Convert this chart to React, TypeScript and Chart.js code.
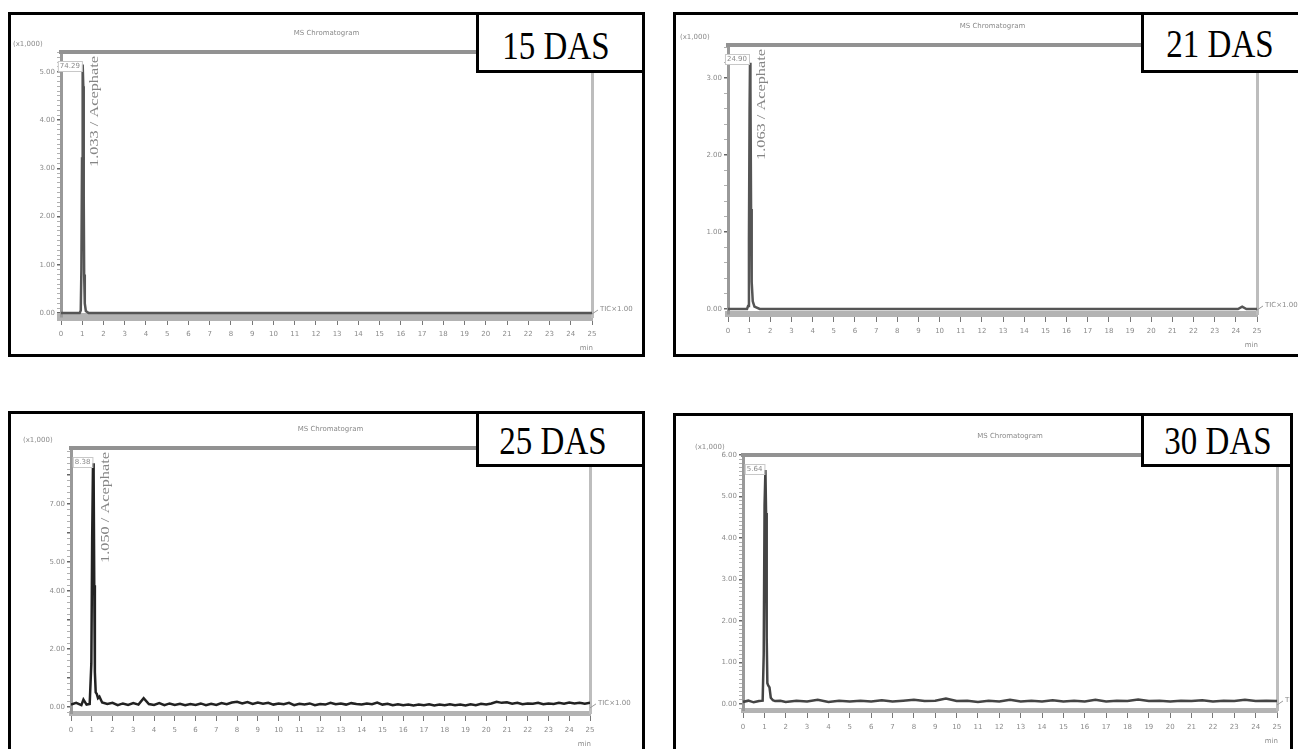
import React, { useEffect, useRef } from 'react';
import { Chart, registerables } from 'chart.js';

Chart.register(...registerables);

// ---------- data (retention time in min, intensity in x1,000) ----------
const DAS_LABELS = ['15 DAS', '21 DAS', '25 DAS', '30 DAS'];
const PEAK_RT = [1.03, 1.04, 1.08, 1.05];
const PEAK_TAGS = ['74.29', '24.90', '8.38', '5.64'];
const COMPOUND_TAGS = ['1.033 / Acephate', '1.063 / Acephate', '1.050 / Acephate', ''];

const Y_MAJOR_15 = [0, 1, 2, 3, 4, 5];
const Y_MAJOR_21 = [0, 1, 2, 3];
const Y_MAJOR_25 = [0, 2, 4, 5, 7];
const Y_MAJOR_30 = [0, 1, 2, 3, 4, 5, 6];

const TRACE_15: number[][] = [
  [0, 0], [0.88, 0], [0.93, 0.05], [0.96, 0.9], [0.99, 3.2], [1.01, 4.6], [1.03, 5.15],
  [1.05, 4.7], [1.07, 2.4], [1.09, 0.8], [1.12, 0.2], [1.17, 0.04], [1.3, 0], [25, 0],
];

const TRACE_21: number[][] = [
  [0, 0], [0.9, 0], [0.95, 0.04], [0.99, 0.9], [1.02, 2.6], [1.04, 3.2], [1.06, 2.9],
  [1.09, 1.3], [1.12, 0.35], [1.17, 0.1], [1.25, 0.03], [1.5, 0], [24.1, 0], [24.3, 0.03],
  [24.5, 0], [25, 0],
];

const TRACE_25: number[][] = [
  [0, 0.08], [0.25, 0.14], [0.5, 0.06], [0.6, 0.25], [0.75, 0.08], [0.9, 0.1], [0.98, 1.5],
  [1.02, 5.8], [1.06, 8.4], [1.09, 8.1], [1.12, 4.2], [1.15, 1.2], [1.19, 0.5], [1.24, 0.45],
  [1.3, 0.3], [1.37, 0.35], [1.5, 0.15], [1.75, 0.1], [2, 0.14], [2.25, 0.06], [2.5, 0.12],
  [2.75, 0.07], [3, 0.13], [3.25, 0.08], [3.5, 0.3], [3.75, 0.1], [4, 0.07], [4.25, 0.13],
  [4.5, 0.06], [4.75, 0.12], [5, 0.07], [5.25, 0.11], [5.5, 0.06], [5.75, 0.1], [6, 0.07],
  [6.25, 0.12], [6.5, 0.06], [6.75, 0.11], [7, 0.07], [7.25, 0.13], [7.5, 0.09], [7.75, 0.15],
  [8, 0.18], [8.25, 0.12], [8.5, 0.17], [8.75, 0.1], [9, 0.15], [9.25, 0.11], [9.5, 0.14],
  [9.75, 0.08], [10, 0.12], [10.25, 0.09], [10.5, 0.14], [10.75, 0.06], [11, 0.11], [11.25, 0.08],
  [11.5, 0.12], [11.75, 0.06], [12, 0.1], [12.25, 0.08], [12.5, 0.14], [12.75, 0.09], [13, 0.12],
  [13.25, 0.08], [13.5, 0.13], [13.75, 0.1], [14, 0.08], [14.25, 0.12], [14.5, 0.09],
  [14.75, 0.15], [15, 0.08], [15.25, 0.11], [15.5, 0.06], [15.75, 0.09], [16, 0.06], [16.25, 0.08],
  [16.5, 0.05], [16.75, 0.08], [17, 0.06], [17.25, 0.09], [17.5, 0.05], [17.75, 0.08], [18, 0.06],
  [18.25, 0.09], [18.5, 0.06], [18.75, 0.08], [19, 0.05], [19.25, 0.09], [19.5, 0.06],
  [19.75, 0.11], [20, 0.08], [20.25, 0.12], [20.5, 0.18], [20.75, 0.14], [21, 0.16],
  [21.25, 0.11], [21.5, 0.14], [21.75, 0.09], [22, 0.12], [22.25, 0.11], [22.5, 0.14],
  [22.75, 0.09], [23, 0.12], [23.25, 0.1], [23.5, 0.14], [23.75, 0.11], [24, 0.15],
  [24.25, 0.12], [24.5, 0.14], [24.75, 0.11], [25, 0.14],
];

const TRACE_30: number[][] = [
  [0, 0.05], [0.25, 0.08], [0.5, 0.04], [0.75, 0.07], [0.92, 0.08], [0.97, 1.2], [1.01, 4.8],
  [1.05, 5.64], [1.08, 4.6], [1.11, 1.6], [1.14, 0.5], [1.18, 0.45], [1.24, 0.4], [1.3, 0.15],
  [1.4, 0.09], [1.5, 0.07], [1.75, 0.08], [2, 0.05], [2.5, 0.08], [3, 0.06], [3.5, 0.1],
  [4, 0.05], [4.5, 0.08], [5, 0.06], [5.5, 0.08], [6, 0.06], [6.5, 0.09], [7, 0.06], [7.5, 0.08],
  [8, 0.1], [8.5, 0.07], [9, 0.08], [9.5, 0.13], [10, 0.07], [10.5, 0.08], [11, 0.05],
  [11.5, 0.08], [12, 0.06], [12.5, 0.1], [13, 0.06], [13.5, 0.08], [14, 0.06], [14.5, 0.09],
  [15, 0.06], [15.5, 0.08], [16, 0.06], [16.5, 0.1], [17, 0.06], [17.5, 0.08], [18, 0.07],
  [18.5, 0.11], [19, 0.07], [19.5, 0.08], [20, 0.06], [20.5, 0.08], [21, 0.07], [21.5, 0.09],
  [22, 0.06], [22.5, 0.08], [23, 0.07], [23.5, 0.1], [24, 0.07], [24.5, 0.08], [25, 0.07],
];

// ---------- layout (page pixels) ----------
type Box = { l: number; t: number; r: number; b: number };
type PanelCfg = {
  box: Box;
  area: Box;
  label: Box & { cx: number; cy: number };
  yMin: number;
  yMax: number;
  yStep: number;
  majors: number[];
  trace: number[][];
  idx: number;
  lineColor: string;
  lineWidth: number;
  axisBand: number;
};

const PANELS: PanelCfg[] = [
  {
    idx: 0, box: { l: 8, t: 12, r: 645, b: 357 }, area: { l: 61, t: 52, r: 592, b: 317 },
    label: { l: 476, t: 12, r: 645, b: 73, cx: 556, cy: 46 },
    yMin: -0.083, yMax: 5.41, yStep: 0.1, majors: Y_MAJOR_15, trace: TRACE_15,
    lineColor: '#555', lineWidth: 2.5, axisBand: 8,
  },
  {
    idx: 1, box: { l: 673, t: 12, r: 1301, b: 357 }, area: { l: 728, t: 45, r: 1257, b: 314 },
    label: { l: 1141, t: 12, r: 1301, b: 73, cx: 1220, cy: 44 },
    yMin: -0.065, yMax: 3.43, yStep: 0.2, majors: Y_MAJOR_21, trace: TRACE_21,
    lineColor: '#555', lineWidth: 2.5, axisBand: 6,
  },
  {
    idx: 2, box: { l: 8, t: 411, r: 645, b: 762 }, area: { l: 71, t: 448, r: 590, b: 713 },
    label: { l: 476, t: 411, r: 645, b: 467, cx: 553, cy: 441 },
    yMin: -0.21, yMax: 8.93, yStep: 0.2, majors: Y_MAJOR_25, trace: TRACE_25,
    lineColor: '#222', lineWidth: 2.5, axisBand: 5,
  },
  {
    idx: 3, box: { l: 673, t: 413, r: 1293, b: 762 }, area: { l: 743, t: 455, r: 1277, b: 710 },
    label: { l: 1141, t: 413, r: 1293, b: 467, cx: 1218, cy: 441 },
    yMin: -0.145, yMax: 6.0, yStep: 0.1, majors: Y_MAJOR_30, trace: TRACE_30,
    lineColor: '#444', lineWidth: 2.5, axisBand: 5,
  },
];

const BORDER = 3;
const SMALL_FONT = '"DejaVu Sans", sans-serif';
const SMALL_COLOR = '#8a8a8a';

const isInt = (v: number) => Math.abs(v - Math.round(v)) < 1e-6;

function overlayPlugin(p: PanelCfg) {
  return {
    id: 'chromOverlay' + p.idx,
    afterDraw(chart: any) {
      const ctx = chart.ctx as CanvasRenderingContext2D;
      const a = chart.chartArea;
      const xs = chart.scales.x;
      const ys = chart.scales.y;
      ctx.save();
      ctx.fillStyle = SMALL_COLOR;
      ctx.font = `7px ${SMALL_FONT}`;
      ctx.textBaseline = 'middle';

      ctx.textAlign = 'center';
      ctx.fillText('MS Chromatogram', (a.left + a.right) / 2, a.top - 19);

      ctx.textAlign = 'left';
      ctx.fillText('(x1,000)', a.left - 48, a.top - 8);

      ctx.textAlign = 'right';
      ctx.fillText('min', a.right + 1, a.bottom + 31);

      const z = ys.getPixelForValue(0);
      ctx.strokeStyle = '#999';
      ctx.lineWidth = 1;
      ctx.beginPath();
      ctx.moveTo(a.right, z + 1);
      ctx.lineTo(a.right + 6, z - 3);
      ctx.stroke();
      ctx.textAlign = 'left';
      ctx.fillText('TIC\u00d71.00', a.right + 8, z - 4);

      const px = xs.getPixelForValue(PEAK_RT[p.idx]);
      const tag = PEAK_TAGS[p.idx];
      ctx.font = `7px ${SMALL_FONT}`;
      const w = ctx.measureText(tag).width;
      const ty = a.top + 14;
      ctx.fillStyle = '#fff';
      ctx.fillRect(px - 3 - w - 2, ty - 5, w + 4, 10);
      ctx.strokeStyle = '#c8c8c8';
      ctx.strokeRect(px - 3 - w - 2 + 0.5, ty - 5 + 0.5, w + 4, 10);
      ctx.fillStyle = SMALL_COLOR;
      ctx.textAlign = 'right';
      ctx.fillText(tag, px - 3, ty);

      const comp = COMPOUND_TAGS[p.idx];
      if (comp) {
        ctx.translate(px + 12, a.top + 115);
        ctx.rotate(-Math.PI / 2);
        ctx.scale(1.36, 1);
        ctx.font = '12px "Liberation Serif", serif';
        ctx.fillStyle = '#858585';
        ctx.textAlign = 'left';
        ctx.textBaseline = 'middle';
        ctx.fillText(comp, 0, 0);
      }
      ctx.restore();
    },
  };
}

function Panel({ p }: { p: PanelCfg }) {
  const ref = useRef<HTMLCanvasElement>(null);
  const inner = {
    l: p.box.l + BORDER,
    t: p.box.t + BORDER,
    r: p.box.r - BORDER,
    b: p.box.b - BORDER,
  };
  const w = inner.r - inner.l;
  const h = inner.b - inner.t;

  useEffect(() => {
    if (!ref.current) return;
    const chart = new Chart(ref.current, {
      type: 'line',
      data: {
        datasets: [
          {
            data: p.trace.map(([x, y]) => ({ x, y })),
            borderColor: p.lineColor,
            borderWidth: p.lineWidth,
            pointRadius: 0,
            tension: 0,
            fill: false,
          },
        ],
      },
      options: {
        responsive: false,
        animation: false,
        devicePixelRatio: 1,
        events: [],
        layout: {
          padding: { left: 0, top: p.area.t - inner.t, right: inner.r - p.area.r, bottom: 0 },
        },
        plugins: { legend: { display: false }, tooltip: { enabled: false }, title: { display: false } },
        scales: {
          x: {
            type: 'linear',
            position: 'bottom',
            min: 0,
            max: 25,
            afterFit: (s: any) => { s.height = inner.b - p.area.b; },
            ticks: {
              stepSize: 1,
              autoSkip: false,
              maxRotation: 0,
              minRotation: 0,
              includeBounds: false,
              padding: 5,
              color: SMALL_COLOR,
              font: { size: 7, family: SMALL_FONT },
              callback: (v: any) => String(Math.round(Number(v))),
            },
            grid: { drawOnChartArea: false, drawTicks: true, tickLength: 8, color: '#777', lineWidth: 1 },
            border: { color: '#b3b3b3', width: p.axisBand },
          },
          y: {
            type: 'linear',
            position: 'left',
            min: p.yMin,
            max: p.yMax,
            afterFit: (s: any) => { s.width = p.area.l - inner.l; },
            ticks: {
              stepSize: p.yStep,
              autoSkip: false,
              maxTicksLimit: 1000,
              includeBounds: false,
              padding: 2,
              color: SMALL_COLOR,
              font: { size: 7, family: SMALL_FONT },
              callback: (v: any) => {
                const n = Number(v);
                return p.majors.some((m) => Math.abs(m - n) < 1e-6) ? n.toFixed(2) : '';
              },
            },
            grid: {
              drawOnChartArea: false,
              drawTicks: true,
              tickLength: 4,
              color: (c: any) => (c.tick && isInt(c.tick.value) ? '#666' : '#b0b0b0'),
              lineWidth: (c: any) => (c.tick && isInt(c.tick.value) ? 1.5 : 1),
            },
            border: { color: '#999', width: 3 },
          },
          xTop: {
            type: 'linear',
            position: 'top',
            min: 0,
            max: 25,
            afterFit: (s: any) => { s.height = 0; },
            ticks: { display: false },
            grid: { drawOnChartArea: false, drawTicks: false },
            border: { color: '#929292', width: 4 },
          },
          yRight: {
            type: 'linear',
            position: 'right',
            min: p.yMin,
            max: p.yMax,
            afterFit: (s: any) => { s.width = 0; },
            ticks: { display: false },
            grid: { drawOnChartArea: false, drawTicks: false },
            border: { color: '#bdbdbd', width: 3 },
          },
        },
      } as any,
      plugins: [overlayPlugin(p)],
    });
    return () => chart.destroy();
  }, []);

  const lb = p.label;
  return (
    <>
      <div
        style={{
          position: 'absolute', left: p.box.l, top: p.box.t,
          width: p.box.r - p.box.l, height: p.box.b - p.box.t,
          border: `${BORDER}px solid #000`, boxSizing: 'border-box', background: '#fff',
        }}
      />
      <canvas
        ref={ref}
        width={w}
        height={h}
        style={{ position: 'absolute', left: inner.l, top: inner.t, width: w, height: h }}
      />
      <div
        style={{
          position: 'absolute', left: lb.l, top: lb.t, width: lb.r - lb.l, height: lb.b - lb.t,
          border: `${BORDER}px solid #000`, boxSizing: 'border-box', background: '#fff',
        }}
      />
      <span
        style={{
          position: 'absolute', left: lb.cx, top: lb.cy,
          transform: 'translate(-50%, -50%) scaleY(1.2)',
          font: '33px "Liberation Serif", "Times New Roman", serif',
          lineHeight: 1, whiteSpace: 'nowrap', color: '#000',
        }}
      >
        {DAS_LABELS[p.idx]}
      </span>
    </>
  );
}

export default function App() {
  return (
    <div
      style={{
        position: 'fixed', left: 0, top: 0, width: 1298, height: 749,
        overflow: 'hidden', background: '#fff',
      }}
    >
      {PANELS.map((p) => (
        <Panel key={p.idx} p={p} />
      ))}
    </div>
  );
}
